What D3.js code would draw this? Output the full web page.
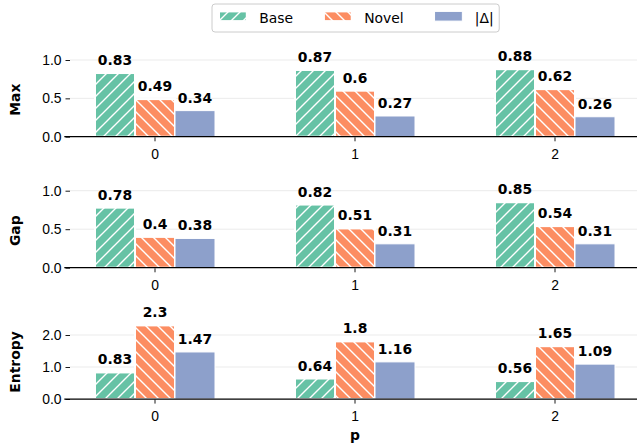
<!DOCTYPE html>
<html lang="en">
<head>
<meta charset="UTF-8">
<title>Base / Novel / |Δ| by p</title>
<script src="https://cdn.jsdelivr.net/npm/d3@7/dist/d3.min.js"></script>
<style>
    body { margin: 0; background: #fff; }
    svg { display: block; font-family: "DejaVu Sans", sans-serif; }
    .tick-label { font-size: 13.9px; fill: #000; }
    .val { font-size: 13.9px; font-weight: bold; fill: #000; }
    .ylab { font-size: 13.9px; font-weight: bold; }
</style>
</head>
<body>
<svg id="chart" width="637" height="445"></svg>
<script>
    // data
    const cats = ["0", "1", "2"]
    const series = ["Base", "Novel", "|Δ|"]
    const metrics = ["Max", "Gap", "Entropy"]

    const maxBase = [0.83, 0.87, 0.88]
    const maxNovel = [0.49, 0.6, 0.62]
    const maxDelta = [0.34, 0.27, 0.26]

    const gapBase = [0.78, 0.82, 0.85]
    const gapNovel = [0.4, 0.51, 0.54]
    const gapDelta = [0.38, 0.31, 0.31]

    const entBase = [0.83, 0.64, 0.56]
    const entNovel = [2.3, 1.8, 1.65]
    const entDelta = [1.47, 1.16, 1.09]

    const maxTicks = [0, 0.5, 1.0]
    const gapTicks = [0, 0.5, 1.0]
    const entTicks = [0, 1.0, 2.0]

    const colors = ["#66c2a5", "#fc8d62", "#8da0cb"]
    const hatches = ["/", "\\", null]

    const panels = [
        { name: metrics[0], vals: [maxBase, maxNovel, maxDelta], ticks: maxTicks, y0: 136.7, yTop: 60 },
        { name: metrics[1], vals: [gapBase, gapNovel, gapDelta], ticks: gapTicks, y0: 267.7, yTop: 190.7 },
        { name: metrics[2], vals: [entBase, entNovel, entDelta], ticks: entTicks, y0: 399, yTop: 335 }
    ]

    const svg = d3.select('#chart')
    const axLeft = 70
    const axRight = 637

    // hatch patterns (background colour + white lines, 12px cell)
    const defs = svg.append('defs')
    series.forEach((s, i) => {
        if (!hatches[i]) return
        const p = defs.append('pattern')
            .attr('id', `hatch${i}`)
            .attr('patternUnits', 'userSpaceOnUse')
            .attr('width', 12).attr('height', 12)
        p.append('rect').attr('width', 12).attr('height', 12).attr('fill', colors[i])
        const d = hatches[i] === '/'
            ? 'M-3,3 L3,-3 M0,12 L12,0 M9,15 L15,9'
            : 'M-3,9 L3,15 M0,0 L12,12 M9,-3 L15,3'
        p.append('path').attr('d', d).attr('stroke', '#fff').attr('stroke-width', 1.4)
    })
    const fillOf = i => hatches[i] ? `url(#hatch${i})` : colors[i]

    const x = d3.scaleBand().domain(cats).range([55, 655]).padding(0)
    const xs = d3.scaleBand().domain(series).range([-60, 60]).padding(0)

    panels.forEach(pn => {
        const y = d3.scaleLinear()
            .domain([0, d3.max(pn.ticks)])
            .range([pn.y0, pn.yTop])
        const g = svg.append('g')

        // grid
        g.selectAll('line.grid').data(pn.ticks.filter(t => t > 0)).enter()
            .append('line')
            .attr('x1', axLeft).attr('x2', axRight)
            .attr('y1', d => y(d)).attr('y2', d => y(d))
            .attr('stroke', '#ebebeb').attr('stroke-width', 1)

        // y axis ticks + labels
        const yAxis = g.append('g').attr('transform', `translate(${axLeft},0)`)
            .call(d3.axisLeft(y).tickValues(pn.ticks).tickFormat(d3.format('.1f')).tickSize(4.5).tickPadding(4))
        yAxis.select('.domain').remove()
        yAxis.selectAll('text').attr('class', 'tick-label').attr('fill', null)
        yAxis.selectAll('.tick line').attr('stroke', '#000').attr('stroke-width', 0.9)

        // bars
        series.forEach((s, si) => {
            g.selectAll(`rect.s${si}`).data(cats).enter()
                .append('rect')
                .attr('x', c => x(c) + x.bandwidth() / 2 + xs(s))
                .attr('width', xs.bandwidth())
                .attr('y', (c, ci) => y(pn.vals[si][ci]))
                .attr('height', (c, ci) => y(0) - y(pn.vals[si][ci]))
                .attr('fill', fillOf(si))
                .attr('stroke', '#fff')
                .attr('stroke-width', hatches[si] ? 2 : 1)

            g.selectAll(`text.v${si}`).data(cats).enter()
                .append('text')
                .attr('class', 'val')
                .attr('text-anchor', 'middle')
                .attr('x', c => x(c) + x.bandwidth() / 2 + xs(s) + xs.bandwidth() / 2)
                .attr('y', (c, ci) => y(pn.vals[si][ci]) - 8)
                .text((c, ci) => String(pn.vals[si][ci]))
        })

        // bottom axis line + x ticks
        g.append('line')
            .attr('x1', 64.3).attr('x2', axRight)
            .attr('y1', pn.y0).attr('y2', pn.y0)
            .attr('stroke', '#000').attr('stroke-width', 1.25)
        const xAxis = g.append('g').attr('transform', `translate(0,${pn.y0 + 0.6})`)
            .call(d3.axisBottom(x).tickSize(4).tickPadding(4))
        xAxis.select('.domain').remove()
        xAxis.selectAll('text').attr('class', 'tick-label').attr('fill', null)
            .attr('dy', null).attr('y', 21.4)
        xAxis.selectAll('.tick line').attr('stroke', '#000').attr('stroke-width', 0.9)

        // y label
        svg.append('text')
            .attr('class', 'ylab')
            .attr('text-anchor', 'middle')
            .attr('transform', `translate(19.5,${pn.y0 - 37}) rotate(-90)`)
            .text(pn.name)
    })

    // x axis title
    svg.append('text')
        .attr('class', 'ylab')
        .attr('text-anchor', 'middle')
        .attr('x', x('1') + x.bandwidth() / 2)
        .attr('y', 439.5)
        .text('p')

    // legend
    const leg = svg.append('g')
    const box = leg.append('rect')
        .attr('x', 212).attr('y', 4).attr('height', 28).attr('rx', 3)
        .attr('fill', '#fff').attr('stroke', '#cccccc').attr('stroke-width', 1)
    let lx = 219
    series.forEach((s, i) => {
        leg.append('rect')
            .attr('x', lx).attr('y', 11.4)
            .attr('width', 27.8).attr('height', 9.7)
            .attr('fill', fillOf(i))
            .attr('stroke', '#fff').attr('stroke-width', hatches[i] ? 2 : 1)
        const t = leg.append('text')
            .attr('class', 'tick-label')
            .attr('x', lx + 40.3).attr('y', 22.5)
            .text(s)
        lx = lx + 40.3 + t.node().getComputedTextLength() + 30.8
    })
    box.attr('width', lx - 30.8 + 5.5 - 212)
</script>
</body>
</html>
